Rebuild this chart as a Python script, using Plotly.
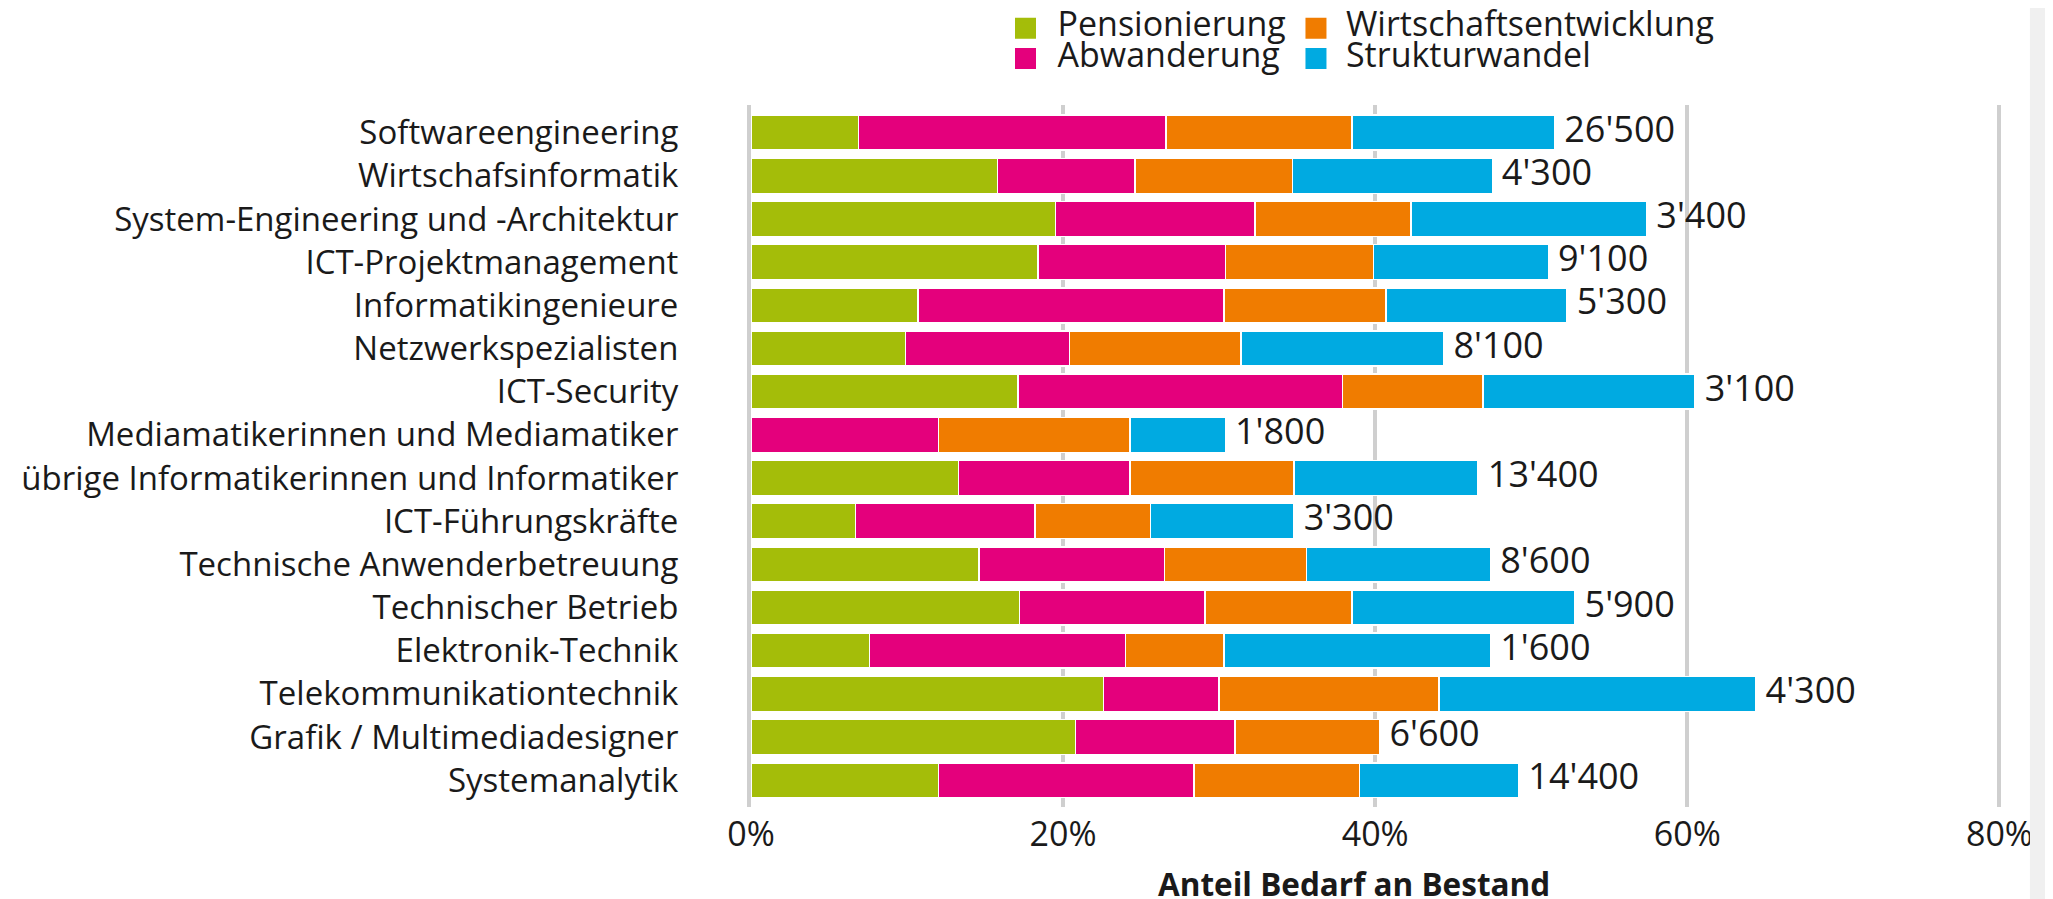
import plotly.graph_objects as go

categories = [
    "Softwareengineering",
    "Wirtschafsinformatik",
    "System-Engineering und -Architektur",
    "ICT-Projektmanagement",
    "Informatikingenieure",
    "Netzwerkspezialisten",
    "ICT-Security",
    "Mediamatikerinnen und Mediamatiker",
    "übrige Informatikerinnen und Informatiker",
    "ICT-Führungskräfte",
    "Technische Anwenderbetreuung",
    "Technischer Betrieb",
    "Elektronik-Technik",
    "Telekommunikationtechnik",
    "Grafik / Multimediadesigner",
    "Systemanalytik",
]

pensionierung = [6.9, 15.8, 19.5, 18.4, 10.7, 9.9, 17.1, 0.0, 13.3, 6.7, 14.6, 17.2, 7.6, 22.6, 20.8, 12.0]
abwanderung = [19.7, 8.8, 12.8, 12.0, 19.6, 10.5, 20.8, 12.0, 11.0, 11.5, 11.9, 11.9, 16.4, 7.4, 10.2, 16.4]
wirtschaftsentwicklung = [11.9, 10.1, 10.0, 9.5, 10.4, 11.0, 9.0, 12.3, 10.5, 7.4, 9.1, 9.4, 6.3, 14.1, 9.3, 10.6]
strukturwandel = [13.0, 12.8, 15.1, 11.2, 11.6, 13.0, 13.6, 6.1, 11.8, 9.2, 11.8, 14.3, 17.1, 20.3, 0.0, 10.2]

bestand = [26500, 4300, 3400, 9100, 5300, 8100, 3100, 1800, 13400, 3300, 8600, 5900, 1600, 4300, 6600, 14400]

x_ticks = [0, 20, 40, 60, 80]
x_ticktext = [f"{v}%" for v in x_ticks]

series = [
    ("Pensionierung", pensionierung, "#A4BD09", "legend"),
    ("Abwanderung", abwanderung, "#E4007C", "legend"),
    ("Wirtschaftsentwicklung", wirtschaftsentwicklung, "#F07C00", "legend2"),
    ("Strukturwandel", strukturwandel, "#00AAE1", "legend2"),
]

FONT = "Open Sans"
TXT = "#1a1a1a"
GRID = "#cfcfcf"

fig = go.Figure()

for name, vals, color, lg in series:
    fig.add_trace(go.Bar(
        name=name, y=categories, x=vals, orientation="h",
        marker=dict(color=color, line=dict(color="white", width=1.5)),
        showlegend=False, hoverinfo="x+y+name",
    ))

# legend entries (larger square swatches than the bar default)
for name, vals, color, lg in series:
    fig.add_trace(go.Scatter(
        name="<span style='font-size:34px'>" + name + "</span>",
        x=[None], y=[None], mode="markers",
        marker=dict(symbol="square", size=16, color=color, line=dict(color=color, width=5)),
        legend=lg, showlegend=True, hoverinfo="skip",
    ))

totals = [a + b + c + d for a, b, c, d in zip(pensionierung, abwanderung, wirtschaftsentwicklung, strukturwandel)]
labels = ["\u2009\u200a" + f"{v:,}".replace(",", "'") for v in bestand]

fig.add_trace(go.Scatter(
    x=totals, y=categories, mode="text", text=labels,
    textposition="middle right",
    textfont=dict(family=FONT, size=36, color=TXT),
    showlegend=False, hoverinfo="skip", cliponaxis=False,
))

# the page places the figure 8px from the top-left corner
OFF = 8
W, H = 2053, 899
XMAX = 80.1
L = 751 - OFF
T = 105 - OFF
plot_bottom = 807 - OFF
pw = 1248.5 * XMAX / 80
R = W - L - pw
B = H - plot_bottom
ph = plot_bottom - T

leg_top = 0.0

def px_x(p):
    return (p - L) / pw

def px_y(p):
    return 1 - (p - T) / ph

fig.update_layout(
    width=W, height=H,
    barmode="stack",
    bargap=0.19,
    paper_bgcolor="white",
    plot_bgcolor="white",
    font=dict(family=FONT, color=TXT, size=32),
    margin=dict(l=L, r=R, t=T, b=B, pad=0, autoexpand=False),
    legend=dict(
        orientation="v", traceorder="normal",
        x=px_x(985.5), xanchor="left",
        y=px_y(leg_top), yanchor="top",
        font=dict(family=FONT, size=21, color=TXT),
        itemwidth=54, bgcolor="rgba(0,0,0,0)", borderwidth=0, tracegroupgap=0,
    ),
    legend2=dict(
        orientation="v", traceorder="normal",
        x=px_x(1278), xanchor="left",
        y=px_y(leg_top), yanchor="top",
        font=dict(family=FONT, size=21, color=TXT),
        itemwidth=50, bgcolor="rgba(0,0,0,0)", borderwidth=0, tracegroupgap=0,
    ),
    xaxis=dict(
        range=[0, XMAX], tickvals=x_ticks, ticktext=x_ticktext,
        showgrid=True, gridcolor=GRID, gridwidth=3.5,
        zeroline=False, showline=False, ticks="", automargin=False,
        tickfont=dict(family=FONT, size=34, color=TXT),
        ticklabelstandoff=4,
    ),
    yaxis=dict(
        type="category", categoryorder="array", categoryarray=categories,
        range=[15.62, -0.64],
        showgrid=False, zeroline=False, automargin=False,
        showline=True, linecolor=GRID, linewidth=4,
        ticks="",
        tickfont=dict(family=FONT, size=33, color=TXT),
        ticklabelstandoff=62,
    ),
    annotations=[dict(
        text="<b>Anteil Bedarf an Bestand</b>",
        xref="paper", yref="paper",
        x=px_x(1354.5 - OFF), y=px_y(883 - OFF),
        xanchor="center", yanchor="middle", showarrow=False,
        font=dict(family=FONT, size=31.5, color=TXT),
    )],
    shapes=[dict(
        type="rect", xref="paper", yref="paper",
        x0=px_x(2030 - OFF), x1=px_x(W + 10), y0=-0.3, y1=1.3,
        fillcolor="#f0f0f0", line=dict(width=0), layer="above",
    )],
)

fig.write_html("out.html")
